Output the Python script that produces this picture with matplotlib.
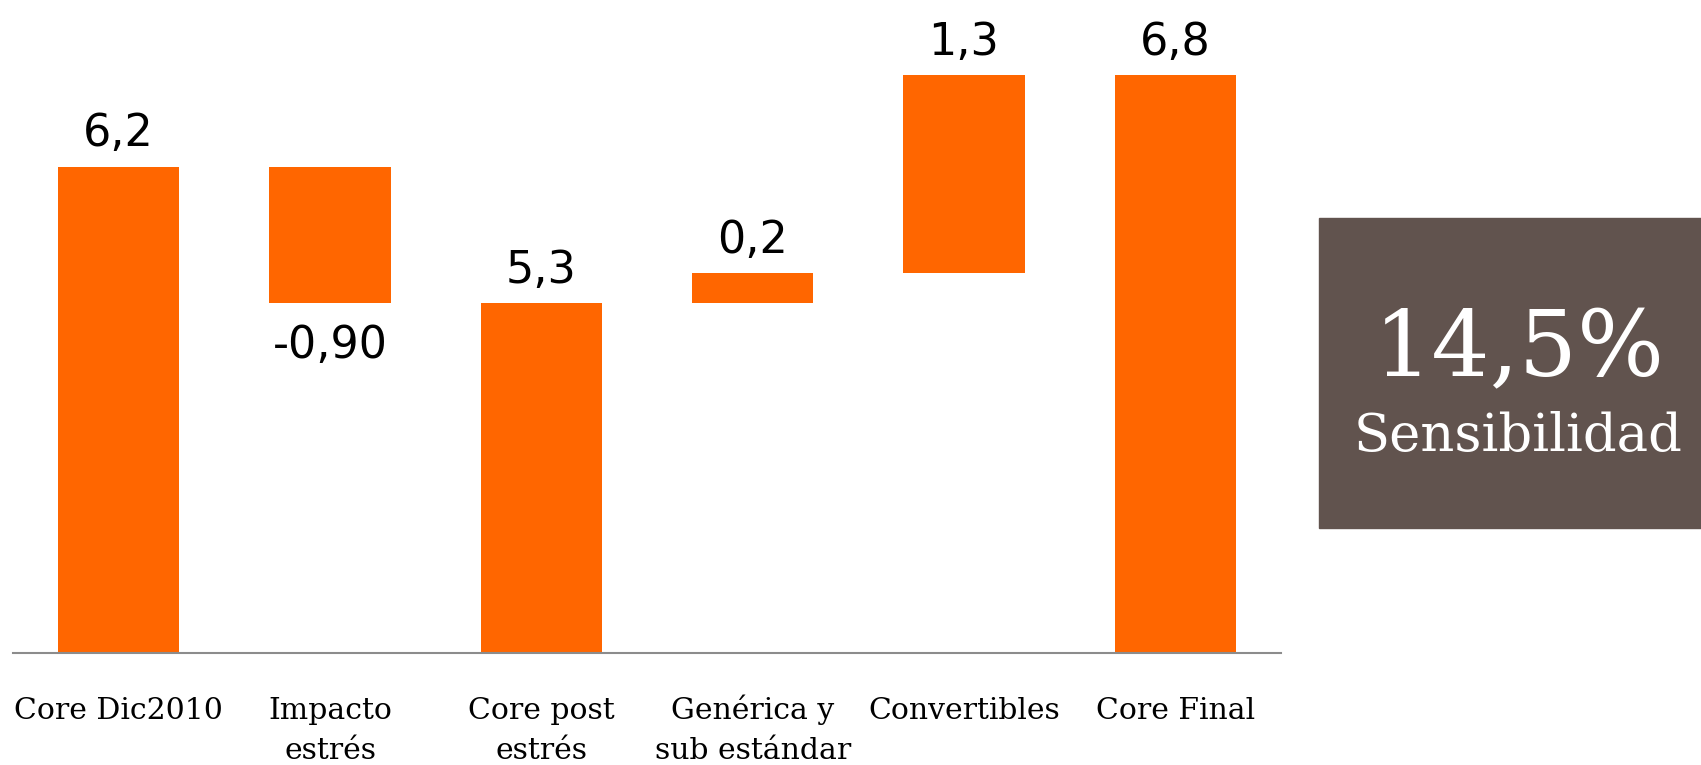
import matplotlib.pyplot as plt
from matplotlib.patches import Rectangle

# Waterfall: totals start from zero, changes float on the running total
categories = ['Core Dic2010', 'Impacto\nestrés', 'Core post\nestrés',
              'Genérica y\nsub estándar', 'Convertibles', 'Core Final']
values = [6.2, -0.9, 5.3, 0.2, 1.3, 6.8]
is_total = [True, False, True, False, False, True]
value_labels = ['6,2', '-0,90', '5,3', '0,2', '1,3', '6,8']

box_value = '14,5%'
box_caption = 'Sensibilidad'

ORANGE = '#ff6600'
BOX_COLOR = '#61534e'

fig = plt.figure(figsize=(17.01, 7.65), dpi=100)
ax = fig.add_axes([13 / 1701, 112 / 765, 1268 / 1701, 653 / 765])

bottoms = []
heights = []
running = 0.0
for v, total in zip(values, is_total):
    if total:
        bottoms.append(0.0)
        heights.append(v)
        running = v
    else:
        bottoms.append(running)
        heights.append(v)
        running += v

x = list(range(len(categories)))
ax.bar(x, heights, bottom=bottoms, width=0.573, color=ORANGE, zorder=2)

for xi, b, h, lab in zip(x, bottoms, heights, value_labels):
    if h >= 0:
        ax.annotate(lab, (xi, b + h), xytext=(0, 8), textcoords='offset points',
                    ha='center', va='bottom', fontsize=32, family='DejaVu Sans')
    else:
        ax.annotate(lab, (xi, b + h), xytext=(0, -15), textcoords='offset points',
                    ha='center', va='top', fontsize=32, family='DejaVu Sans')

# category names, one line at a time so the first baselines line up
for xi, cat in zip(x, categories):
    for i, line in enumerate(cat.split('\n')):
        ax.text(xi, -0.101 - i * 40 / 653, line, transform=ax.get_xaxis_transform(),
                ha='center', va='baseline', fontsize=21.5, family='DejaVu Serif')

ax.set_xlim(-0.5, 5.5)
ax.set_ylim(3, 3 + 653 / 152)
ax.set_xticks([])
ax.set_yticks([])
for side in ['top', 'right', 'left']:
    ax.spines[side].set_visible(False)
ax.spines['bottom'].set_color('#8c8c8c')
ax.spines['bottom'].set_linewidth(1.5)

# Summary box on the right
fig.patches.append(Rectangle((1319 / 1701, 237 / 765), 382 / 1701, 310 / 765,
                             transform=fig.transFigure, color=BOX_COLOR, zorder=0))
fig.text(1519 / 1701, 389 / 765, box_value, color='white', fontsize=66,
         family='DejaVu Serif', ha='center', va='baseline')
fig.text(1518 / 1701, 314 / 765, box_caption, color='white', fontsize=38,
         family='DejaVu Serif', ha='center', va='baseline')

fig.savefig('out.png', dpi=100)
